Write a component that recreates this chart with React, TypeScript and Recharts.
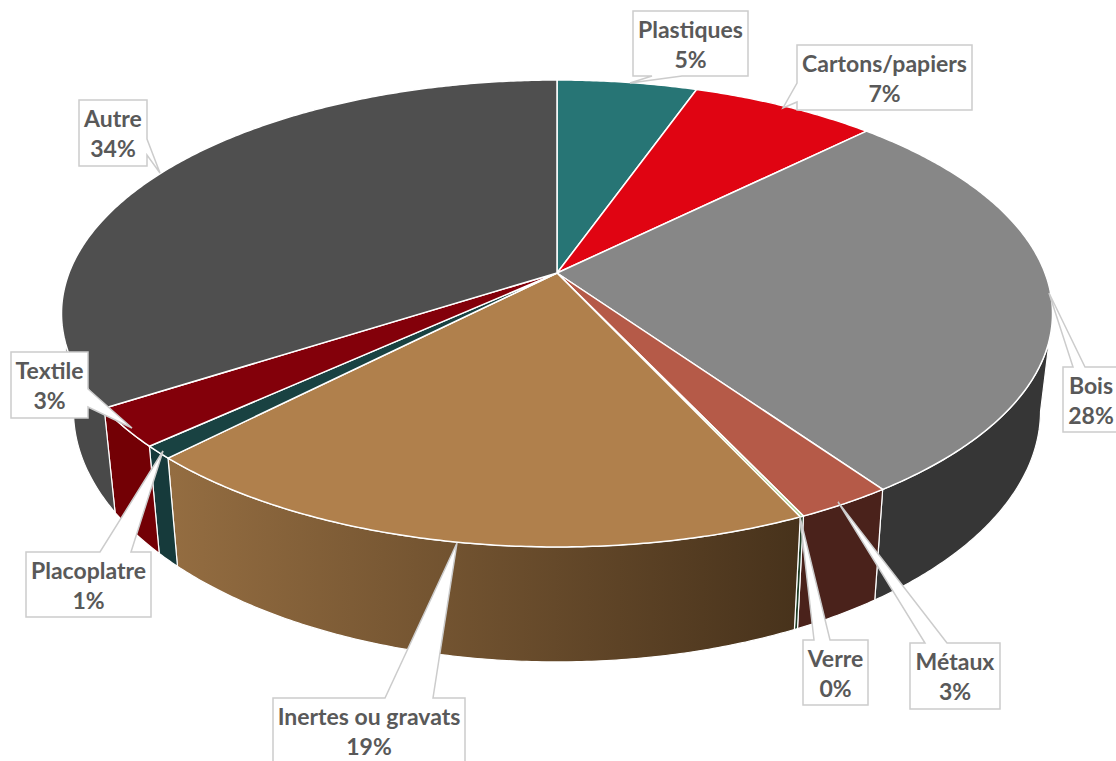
import React from "react";
import { PieChart, Pie } from "recharts";

const categories = ["Plastiques", "Cartons/papiers", "Bois", "Métaux", "Verre", "Inertes ou gravats", "Placoplatre", "Textile", "Autre"];
const values = [5.4, 7.2, 27.7, 2.7, 0.1, 19.2, 0.9, 2.7, 34.1];
const topColors = ["#277575", "#e00412", "#878787", "#b55a48", "#a9d18e", "#b0804c", "#194242", "#83000a", "#4f4f4f"];
const sideColors = ["#1c5454", "#a00310", "#363636", "#4a221b", "#1d3d25", "url(#inertesSide)", "#163a3b", "#730005", "#494949"];

type Callout = { box: number[]; tip: number[]; base: number[]; side: "t" | "r" | "b" | "l" };
const callouts: Callout[] = [
  { box: [633, 11, 115, 65], tip: [630, 83], base: [652, 682], side: "b" },
  { box: [797, 45, 175, 65], tip: [783, 108], base: [83, 102], side: "l" },
  { box: [1063, 367, 56, 65], tip: [1049, 293], base: [1073, 1085], side: "t" },
  { box: [910, 643, 90, 66], tip: [838, 502], base: [925, 947], side: "t" },
  { box: [803, 640, 65, 65], tip: [800, 517], base: [814, 830], side: "t" },
  { box: [273, 698, 192, 70], tip: [457, 543], base: [385, 433], side: "t" },
  { box: [26, 552, 125, 65], tip: [163, 451], base: [100, 131], side: "t" },
  { box: [11, 352, 77, 66], tip: [132, 428], base: [389, 407], side: "r" },
  { box: [79, 100, 68, 66], tip: [160, 173], base: [139, 155], side: "r" },
];

const tableRows = categories.map((name, i) => ({ name, value: values[i], top: topColors[i], side: sideColors[i], i }));

const HUB_X = 557, HUB_Y = 273, RADIUS = 488;
const PERSP_A = 179.1, PERSP_C = -0.1734;
const TOP_CY = 313, TOP_RX = 496, TOP_RY = 234;
const BOT_CY = 410, BOT_RX = 484, BOT_RY = 252;

// Perspective projection of a unit-circle angle (clockwise from 12 o'clock) to the tilted top face.
const project = (deg: number, cx: number, cy: number, r: number) => {
  const t = (deg * Math.PI) / 180;
  const u = Math.sin(t), v = -Math.cos(t);
  const den = PERSP_C * v + 1;
  return [cx + (r * u) / den, (PERSP_A * v + cy) / den];
};
const toBottom = (p: number[]) => {
  const c = (p[0] - HUB_X) / TOP_RX, s = (p[1] - TOP_CY) / TOP_RY;
  return [HUB_X + BOT_RX * c, BOT_CY + BOT_RY * s];
};
const sweep = (a0: number, a1: number) => {
  const n = Math.max(2, Math.ceil(Math.abs(a1 - a0) / 0.5));
  const out: number[] = [];
  for (let i = 0; i <= n; i++) out.push(a0 + ((a1 - a0) * i) / n);
  return out;
};
const poly = (pts: number[][]) => "M" + pts.map((p) => `${p[0].toFixed(2)},${p[1].toFixed(2)}`).join("L") + "Z";

const TopFace = (props: any) => {
  const { cx, cy, outerRadius, startAngle, endAngle, payload } = props;
  const row = payload ?? props;
  const pts = sweep(90 - startAngle, 90 - endAngle).map((a) => project(a, cx, cy, outerRadius));
  return <path d={poly([[cx, cy], ...pts])} fill={row.top} stroke="#ffffff" strokeWidth={1.5} strokeLinejoin="round" />;
};

const SideFace = (props: any) => {
  const { cx, cy, outerRadius, startAngle, endAngle, payload } = props;
  const row = payload ?? props;
  const pts = sweep(90 - startAngle, 90 - endAngle).map((a) => project(a, cx, cy, outerRadius)).filter((p) => p[1] >= TOP_CY);
  if (pts.length < 2) return <g />;
  const bottom = pts.map(toBottom).reverse();
  return (
    <g>
      <defs>
        <linearGradient id="inertesSide" gradientUnits="userSpaceOnUse" x1={170} y1={0} x2={800} y2={0}>
          <stop offset="0" stopColor="#946d41" />
          <stop offset="1" stopColor="#47321b" />
        </linearGradient>
      </defs>
      <path d={poly([...pts, ...bottom])} fill={row.side} stroke="#ffffff" strokeWidth={1.2} strokeLinejoin="round" />
    </g>
  );
};

const calloutPath = (c: Callout) => {
  const [x, y, w, h] = c.box;
  const r = x + w, b = y + h;
  const [p, q] = c.base;
  const pts: number[][] = [[x, y]];
  if (c.side === "t") pts.push([p, y], c.tip, [q, y]);
  pts.push([r, y]);
  if (c.side === "r") pts.push([r, p], c.tip, [r, q]);
  pts.push([r, b]);
  if (c.side === "b") pts.push([q, b], c.tip, [p, b]);
  pts.push([x, b]);
  if (c.side === "l") pts.push([x, q], c.tip, [x, p]);
  return poly(pts);
};

const Label = (props: any) => {
  const { index, name, percent } = props;
  const c = callouts[index];
  const [x, y, w] = c.box;
  const mid = x + w / 2;
  const font = { fontFamily: "Lato", fontWeight: 700, fontSize: 23, fill: "#595959" };
  return (
    <g>
      <path d={calloutPath(c)} fill="#ffffff" stroke="#cccccc" strokeWidth={1.5} strokeLinejoin="miter" />
      <text x={mid} y={y + 27} textAnchor="middle" {...font}>{name}</text>
      <text x={mid} y={y + 57} textAnchor="middle" {...font}>{`${Math.round(percent * 100)}%`}</text>
    </g>
  );
};

export default function App() {
  return (
    <div style={{ position: "absolute", left: 0, top: 0, width: 1116, height: 761, overflow: "hidden", background: "#fff" }}>
      <PieChart width={1116} height={761} margin={{ top: 0, right: 0, bottom: 0, left: 0 }}>
        <Pie data={tableRows} dataKey="value" nameKey="name" cx={HUB_X} cy={HUB_Y} innerRadius={0} outerRadius={RADIUS}
          startAngle={90} endAngle={-270} paddingAngle={0} isAnimationActive={false} shape={SideFace} activeShape={SideFace} inactiveShape={SideFace} />
        <Pie data={tableRows} dataKey="value" nameKey="name" cx={HUB_X} cy={HUB_Y} innerRadius={0} outerRadius={RADIUS}
          startAngle={90} endAngle={-270} paddingAngle={0} isAnimationActive={false} shape={TopFace} activeShape={TopFace} inactiveShape={TopFace}
          label={Label} labelLine={false} />
      </PieChart>
    </div>
  );
}
